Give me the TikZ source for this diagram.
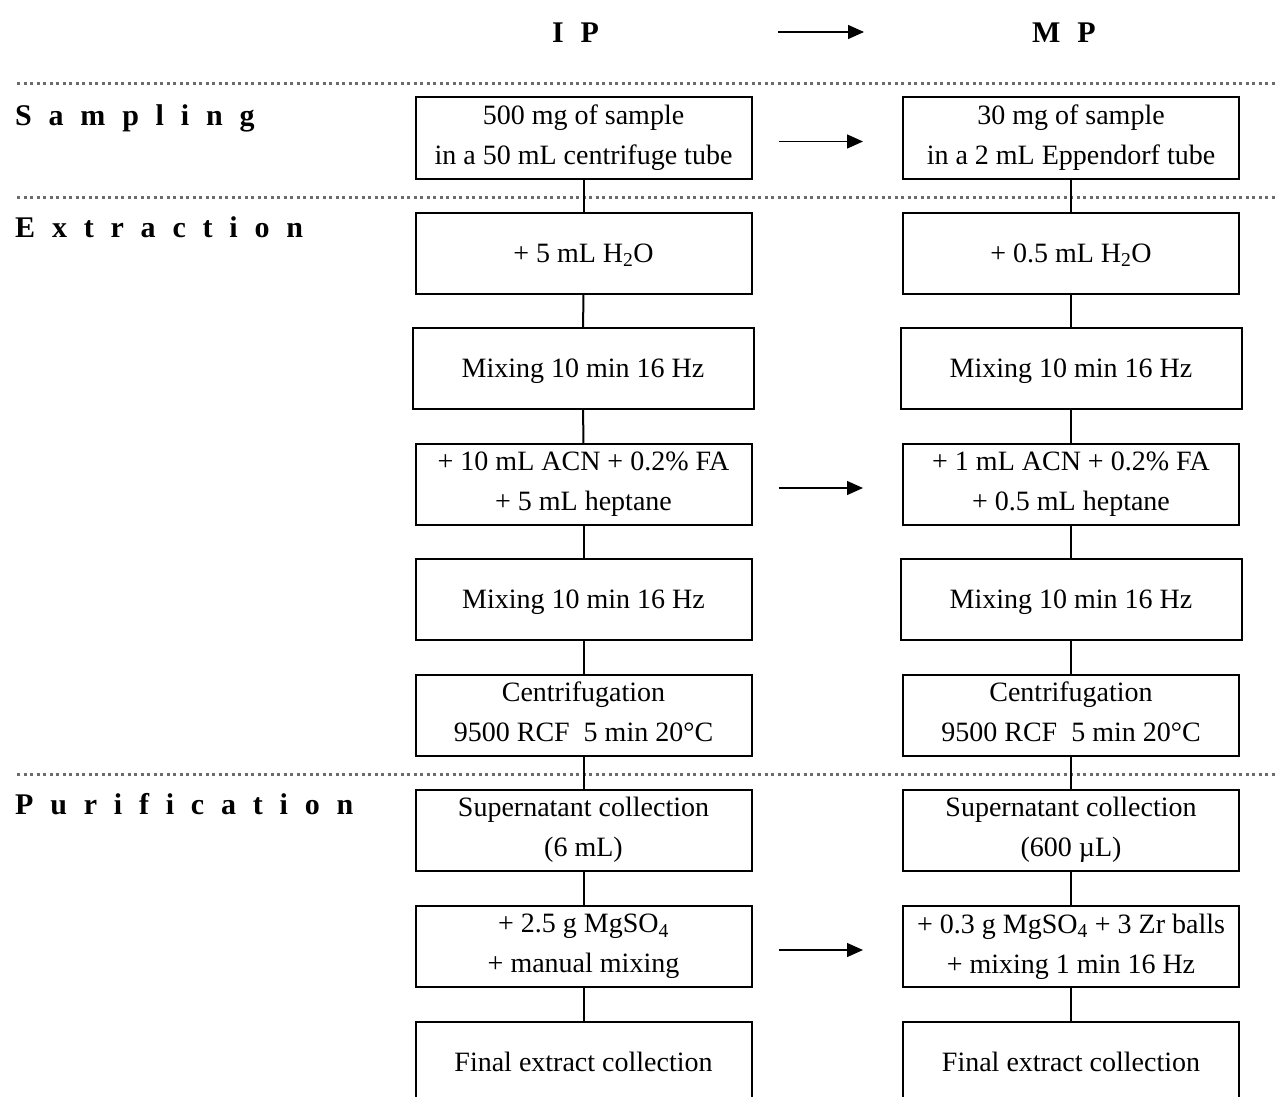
\documentclass[tikz,border=0pt]{standalone}
\usepackage{fontspec}
\setmainfont{Liberation Serif}
\usetikzlibrary{arrows.meta}
\newcommand\gq{\hspace{16.8pt}}
\begin{document}
\begin{tikzpicture}[x=1pt,y=-1pt,
  box/.style={draw, line width=2pt, minimum width=336pt, minimum height=81pt,
    align=center, inner sep=0pt, font=\fontsize{28}{40}\selectfont,
    execute at begin node={\rule{0pt}{25pt}},
    execute at end node={\rule[-6pt]{0pt}{6pt}}},
  mixbox/.style={box, minimum width=341pt},
  conn/.style={line width=2pt},
  arr/.style={line width=1.3pt, -{Triangle[length=16pt,width=14pt]}},
  dotline/.style={draw=black!58, line width=3pt, dash pattern=on 3pt off 3.5pt},
  lbl/.style={anchor=base west, inner sep=0pt, font=\fontsize{30}{36}\selectfont\bfseries}
]
\useasboundingbox (0,0) rectangle (1277,1097);
\clip (0,0) rectangle (1277,1097);

% section separators
\draw[dotline] (17,84) -- (1277,84);
\draw[dotline] (17,197) -- (1277,197);
\draw[dotline] (17,774) -- (1277,774);

% headers
\node[lbl] (hIP) at (552,43) {I\gq P};
\node[lbl] (hMP) at (1032,43) {M\gq P};
\coordinate (h1) at (778,32);
\coordinate (h2) at (864,32);
\draw[arr] (h1) -- (h2);

% section labels
\node[lbl] (lS) at (15,126) {S\gq a\gq m\gq p\gq l\gq i\gq n\gq g};
\node[lbl] (lE) at (15,237) {E\gq x\gq t\gq r\gq a\gq c\gq t\gq i\gq o\gq n};
\node[lbl] (lP) at (15,814) {P\gq u\gq r\gq i\gq f\gq i\gq c\gq a\gq t\gq i\gq o\gq n};

% IP column
\node[box] (a1) at (583.5,138) {500 mg of sample\\in a 50 mL centrifuge tube};
\node[box] (a2) at (583.5,253) {+ 5 mL H\textsubscript{2}O};
\node[mixbox] (a3) at (583,368.5) {Mixing 10 min 16 Hz};
\node[box] (a4) at (583.5,484.5) {+ 10 mL ACN + 0.2\% FA\\+ 5 mL heptane};
\node[box] (a5) at (583.5,599.5) {Mixing 10 min 16 Hz};
\node[box] (a6) at (583.5,715) {Centrifugation\\9500 RCF\ \ 5 min 20°C};
\node[box] (a7) at (583.5,830) {Supernatant collection\\(6 mL)};
\node[box] (a8) at (583.5,946.5) {+ 2.5 g MgSO\textsubscript{4}\\+ manual mixing};
\node[box] (a9) at (583.5,1062) {Final extract collection};

% MP column
\node[box] (b1) at (1071,138) {30 mg of sample\\in a 2 mL Eppendorf tube};
\node[box] (b2) at (1071,253) {+ 0.5 mL H\textsubscript{2}O};
\node[mixbox] (b3) at (1071,368.5) {Mixing 10 min 16 Hz};
\node[box] (b4) at (1071,484.5) {+ 1 mL ACN + 0.2\% FA\\+ 0.5 mL heptane};
\node[mixbox] (b5) at (1071,599.5) {Mixing 10 min 16 Hz};
\node[box] (b6) at (1071,715) {Centrifugation\\9500 RCF\ \ 5 min 20°C};
\node[box] (b7) at (1071,830) {Supernatant collection\\(600 µL)};
\node[box] (b8) at (1071,946.5) {+ 0.3 g MgSO\textsubscript{4} + 3 Zr balls\\+ mixing 1 min 16 Hz};
\node[box] (b9) at (1071,1062) {Final extract collection};

% vertical connectors
\foreach \i/\j in {1/2,2/3,3/4,4/5,5/6,6/7,7/8,8/9}{
  \draw[conn] (a\i) -- (a\j);
  \draw[conn] (b\i) -- (b\j);
}

% IP -> MP arrows
\foreach \r in {1,4,8}{
  \draw[arr, shorten <=26pt, shorten >=39pt] ([yshift=-3.5pt]a\r.east) -- ([yshift=-3.5pt]b\r.west);
}
\end{tikzpicture}
\end{document}
